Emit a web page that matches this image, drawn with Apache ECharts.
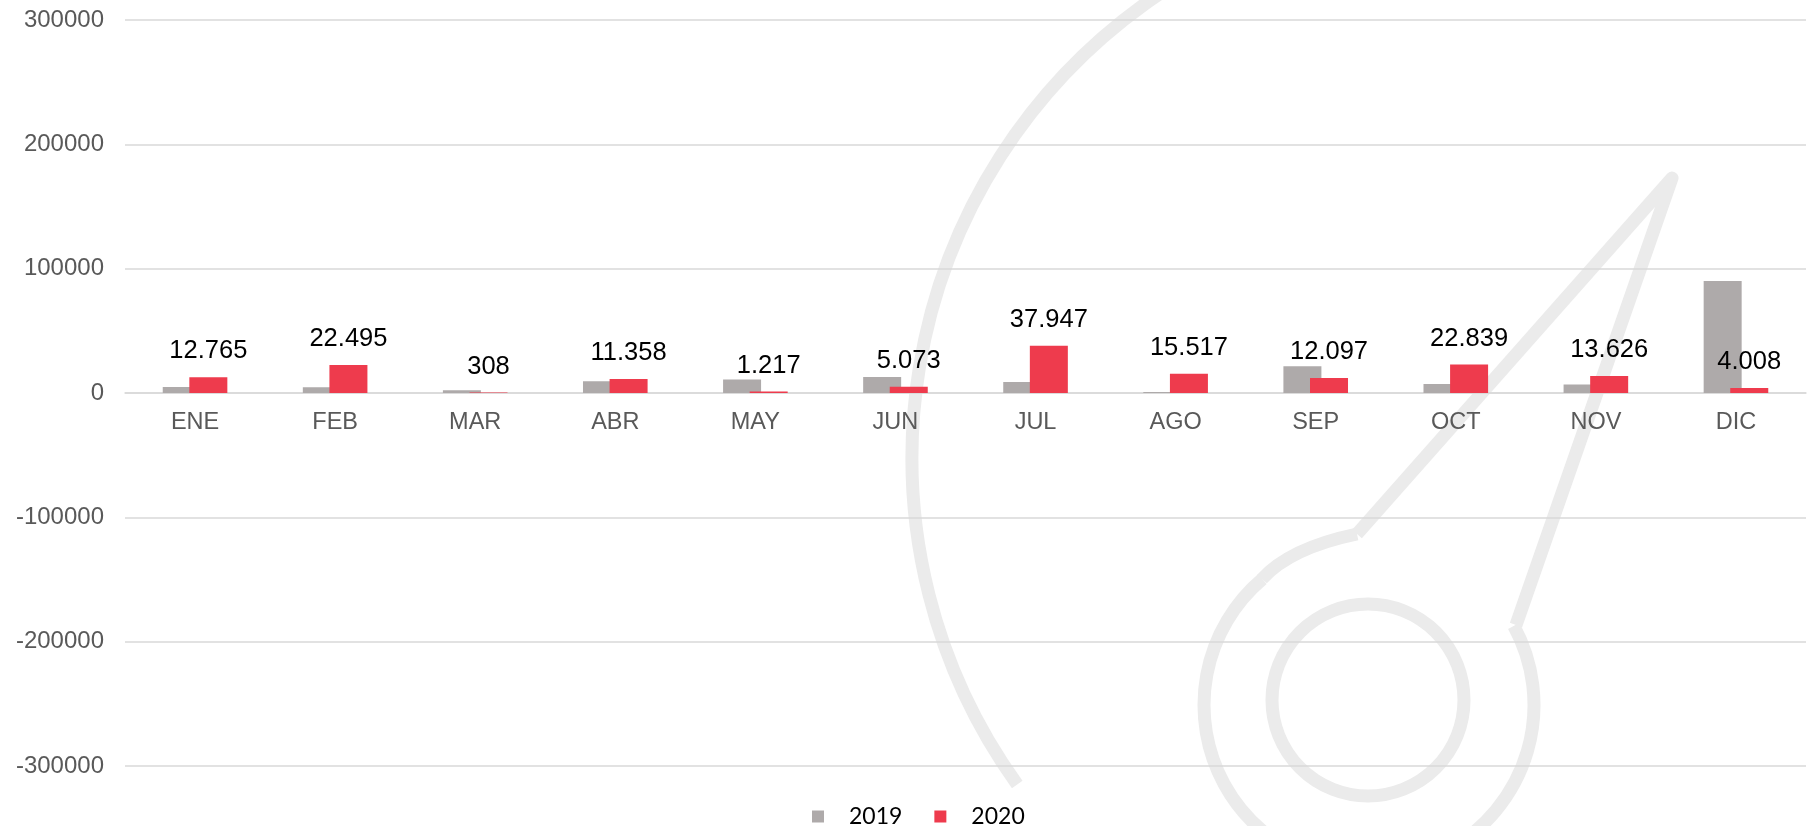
<!DOCTYPE html>
<html><head><meta charset="utf-8">
<script src="https://cdn.jsdelivr.net/npm/echarts@6/dist/echarts.min.js"></script>
<style>html,body{margin:0;padding:0;background:#fff}#c{width:1816px;height:826px}</style>
</head><body><div id="c"></div>
<script>
const categories = ['ENE','FEB','MAR','ABR','MAY','JUN','JUL','AGO','SEP','OCT','NOV','DIC'];
const seriesNames = ['2019','2020'];
const values2019 = [4800,4700,2200,9400,10800,12900,8900,800,21500,7300,6800,90000];
const values2020 = [12765,22495,308,11358,1217,5073,37947,15517,12097,22839,13626,4008];
const yMin = -300000, yMax = 300000, yInterval = 100000;

function fmtThousands(v){ return String(v).replace(/\B(?=(\d{3})+(?!\d))/g, '.'); }

const GRID_TOP = 20, GRID_BOTTOM = 60, H = 826;
// put the category axis on the zero line
const plotH = H - GRID_TOP - GRID_BOTTOM;
const zeroOffset = -plotH * (0 - yMin) / (yMax - yMin);

const WM = '#ebebeb';
const chart = echarts.init(document.getElementById('c'), null, {renderer:'canvas'});
chart.setOption({
  animation:false,
  backgroundColor:'#ffffff',
  grid:{left:125, right:10, top:GRID_TOP, bottom:GRID_BOTTOM, containLabel:false},
  graphic:[
    {type:'arc', z:-1, shape:{cx:1471, cy:458, r:559, startAngle:2.518, endAngle:4.25, clockwise:true},
     style:{stroke:WM, lineWidth:13, fill:null}},
    {type:'circle', z:-1, shape:{cx:1368, cy:700, r:96}, style:{stroke:WM, lineWidth:13, fill:null}},
    {type:'bezierCurve', z:-1, shape:{x1:1262, y1:579, cpx1:1290, cpy1:548, x2:1357, y2:534},
     style:{stroke:WM, lineWidth:13, fill:null}},
    {type:'polyline', z:-1, shape:{points:[[1357,534],[1672,178],[1516,625]]},
     style:{stroke:WM, lineWidth:13, fill:null, lineJoin:'round'}},
    {type:'arc', z:-1, shape:{cx:1369, cy:705, r:165, startAngle:-0.5, endAngle:4.01, clockwise:true},
     style:{stroke:WM, lineWidth:13, fill:null}}
  ],
  legend:{
    data:seriesNames, top:800, left:807, icon:'rect', itemWidth:12, itemHeight:12, itemGap:32,
    textStyle:{fontFamily:'Lato', fontSize:23, color:'#000', padding:[0,0,4,20]}
  },
  xAxis:{
    type:'category', data:categories,
    offset: zeroOffset,
    axisTick:{show:false},
    axisLine:{onZero:false, lineStyle:{color:'#d9d9d9', width:1.5}},
    axisLabel:{fontFamily:'Liberation Sans, Arial', fontSize:23.5, color:'#595959', margin:18}
  },
  yAxis:{
    type:'value', min:yMin, max:yMax, interval:yInterval,
    axisLine:{show:false}, axisTick:{show:false},
    splitLine:{lineStyle:{color:'#d9d9d9', width:1.5}},
    axisLabel:{fontFamily:'Liberation Sans, Arial', fontSize:24, color:'#595959', margin:21,
      formatter:v=>String(v)}
  },
  series:[
    {name:seriesNames[0], type:'bar', data:values2019, barWidth:38, barGap:'-30%',
     itemStyle:{color:'#aeaaaa'}},
    {name:seriesNames[1], type:'bar', data:values2020, barWidth:38, barGap:'-30%',
     itemStyle:{color:'#ee3b4d'},
     label:{show:true, position:'top', distance:13, fontFamily:'Liberation Sans, Arial', fontSize:25.5, color:'#000',
       formatter:p=>fmtThousands(p.value)}}
  ]
});
</script></body></html>
